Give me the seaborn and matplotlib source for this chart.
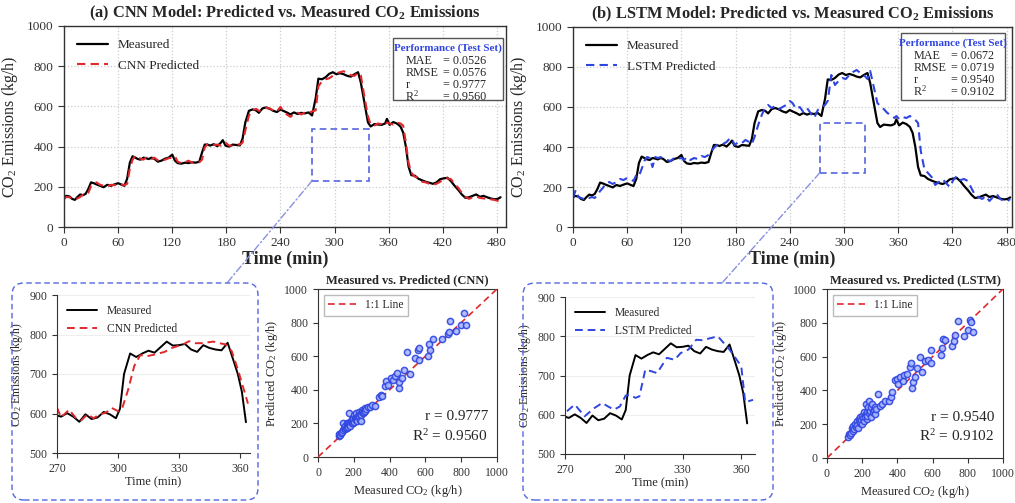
import matplotlib
matplotlib.use("Agg")
import matplotlib.pyplot as plt
import seaborn as sns
import numpy as np
from matplotlib.patches import FancyBboxPatch, Rectangle, ConnectionPatch

# ---------------- data ----------------
time_min = [0,3,6,9,12,15,18,21,24,27,
            30,33,36,40,44,48,52,56,60,64,
            67,70,73,76,79,82,85,88,91,94,
            97,100,104,108,112,116,120,123,126,130,
            134,138,142,146,150,153,156,159,162,166,
            170,174,176,179,183,187,191,195,198,201,
            205,209,213,216,220,224,228,232,236,240,
            243,247,251,255,259,263,267,271,275,279,
            282,286,290,294,298,302,306,310,314,318,
            322,326,329,333,337,340,344,348,352,356,
            358,361,365,369,373,376,379,382,385,389,
            393,397,401,405,409,413,417,421,425,429,
            433,437,441,445,449,453,457,461,465,469,
            473,477,481,484]
measured = [150,155,152,140,135,150,162,158,165,190,
            222,218,212,205,198,210,205,212,218,210,
            205,240,320,352,345,338,335,345,342,338,
            345,340,325,330,340,345,360,330,318,315,
            320,318,322,320,325,370,410,410,405,412,
            402,420,432,405,400,410,408,406,440,520,
            578,585,580,568,590,595,588,578,572,585,
            578,570,560,570,562,568,565,570,555,640,
            738,735,745,762,770,760,765,760,752,748,
            760,770,720,620,520,500,512,510,508,515,
            538,508,522,515,500,470,400,300,258,255,
            240,232,225,220,215,222,238,242,245,228,
            205,185,162,145,148,155,162,150,155,148,
            142,138,140,148]
cnn_pred = [140,150,148,145,138,142,150,160,158,170,
            205,215,222,210,205,202,210,208,215,212,
            208,215,290,335,355,345,340,335,345,340,
            338,345,332,328,335,342,345,352,325,318,
            322,330,320,322,322,335,395,412,415,408,
            410,405,415,420,405,405,412,410,420,480,
            555,580,588,578,580,592,590,580,575,598,
            575,560,548,562,568,560,570,568,575,580,
            700,725,735,740,752,765,770,775,768,755,
            752,768,755,650,550,510,505,515,512,505,
            520,515,510,520,515,505,420,320,270,250,
            245,225,222,215,210,215,225,240,242,238,
            215,195,170,150,140,148,152,145,142,140,
            138,135,130,128]
lstm_pred = [145,185,150,145,140,148,145,150,145,160,
             180,195,215,225,215,225,240,235,245,238,
             230,260,255,290,330,350,345,300,350,345,
             350,340,335,330,345,340,345,335,350,335,
             345,340,355,350,360,380,395,410,410,415,
             425,445,440,410,425,420,435,425,415,450,
             510,560,600,610,595,605,590,600,610,630,
             620,590,600,575,595,570,545,585,600,610,
             630,760,710,730,745,740,760,775,785,770,
             760,740,780,700,620,605,590,570,560,545,
             555,540,550,545,555,545,535,520,380,290,
             270,250,210,225,240,220,200,235,255,235,
             240,230,195,160,150,140,155,130,150,165,
             140,130,130,140]

# zoomed detail (270-365 min)
inset_t = [270,272,275,278,281,284,287,290,293,296,
           299,301,303,306,309,312,315,318,321,324,
           327,330,333,336,339,342,345,348,351,354,
           357,359,361,363]
inset_measured = [595,592,601,592,579,598,586,590,604,598,
                  588,612,700,752,743,752,759,754,768,782,
                  772,773,776,762,756,773,766,762,760,779,
                  732,700,655,578]
cnn_inset_t = [270,272,276,279,282,285,288,291,294,297,300,302,305,308,311,314,317,
               320,323,326,329,332,335,338,341,344,347,350,353,356,359,362,364]
cnn_inset_pred = [615,590,610,590,583,598,588,598,602,614,606,612,660,720,748,745,748,
                  752,756,765,770,775,783,778,778,780,782,778,775,758,712,660,625]
lstm_inset_t = [271,275,280,285,289,292,295,298,301,303,306,308,311,314,317,322,326,
                329,333,337,340,345,348,351,354,357,360,362,366]
lstm_inset_pred = [609,626,596,617,630,621,613,621,649,651,643,647,715,711,706,745,740,
                   757,766,791,790,796,800,783,766,745,723,632,638]

# scatter (measured, predicted)
cnn_sc_meas = [115,120,125,130,135,140,140,145,150,150,155,160,160,165,170,170,175,175,180,180,
               185,190,190,195,195,200,200,205,210,210,215,215,220,220,225,230,230,235,235,240,
               240,245,245,250,255,260,265,270,280,290,300,320,
               340,350,360,375,380,390,410,420,430,440,450,455,470,480,495,515,540,560,
               565,565,615,620,628,645,695,728,732,735,770,800,815,825]
cnn_sc_pred = [125,135,130,145,150,160,200,170,165,185,175,200,170,190,180,205,195,260,200,185,
               215,225,205,200,235,210,250,230,220,240,225,260,235,215,245,240,270,220,255,250,
               215,280,265,260,270,290,275,285,300,295,310,305,
               360,370,365,420,450,430,470,460,480,500,410,445,470,520,625,495,590,635,
               650,575,600,670,635,705,700,735,745,810,750,785,860,785]
lstm_sc_meas = [120,125,130,135,140,145,150,155,160,165,170,170,175,180,185,190,190,195,200,200,
                205,210,210,215,220,220,225,230,230,235,240,240,245,250,250,255,260,265,270,275,
                280,290,300,310,330,350,365,370,
                385,395,405,415,430,440,455,470,480,485,490,500,510,530,540,555,575,590,
                590,650,655,660,670,710,720,745,730,780,800,815,820,830]
lstm_sc_pred = [125,140,135,150,175,160,190,170,200,185,220,195,180,230,205,215,245,225,200,250,
                235,270,220,245,320,260,230,275,250,300,335,265,280,240,300,320,270,285,300,260,
                290,380,310,320,335,340,360,390,
                460,470,440,480,455,490,500,540,560,415,450,480,530,600,510,575,580,640,
                565,610,650,705,700,660,690,810,725,720,760,815,805,745]

# ---------------- style ----------------
sns.set_style("ticks")
serif = ["Liberation Serif", "DejaVu Serif"]
plt.rcParams["font.family"] = serif
plt.rcParams["mathtext.fontset"] = "custom"
plt.rcParams["mathtext.rm"] = "Liberation Serif"
plt.rcParams["mathtext.it"] = "Liberation Serif:italic"
plt.rcParams["mathtext.bf"] = "Liberation Serif:bold"
plt.rcParams["axes.edgecolor"] = "#333333"
plt.rcParams["xtick.color"] = "#333333"
plt.rcParams["ytick.color"] = "#333333"

RED = "#e0282d"
BLUE = "#2f45e0"
BOXBLUE = "#5566dd"

W, H = 1015, 503
fig = plt.figure(figsize=(W / 100, H / 100), dpi=100)
fig.patch.set_facecolor("white")

def fax(x0, y0, x1, y1):
    return fig.add_axes([x0 / W, 1 - y1 / H, (x1 - x0) / W, (y1 - y0) / H])

ax_a = fax(64, 26, 506, 227)
ax_b = fax(573, 27, 1012, 227)
ax_ia = fax(57, 295, 250, 453)
ax_sa = fax(318, 289, 497, 457)
ax_ib = fax(565, 297, 755, 454)
ax_sb = fax(827, 289, 1003, 458)

# ------------- top panels -------------
def top_panel(ax, pred, pcolor, plabel, title, metrics, box, rect, xmax):
    sns.lineplot(x=time_min, y=measured, ax=ax, color="black", lw=1.6,
                 label="Measured", estimator=None)
    sns.lineplot(x=time_min, y=pred, ax=ax, color=pcolor, lw=1.5,
                 label=plabel, estimator=None, linestyle=(0, (4, 2.5)))
    ax.set_xlim(0, xmax)
    ax.set_ylim(0, 1000)
    ax.set_xticks(range(0, 481, 60))
    ax.set_yticks(range(0, 1001, 200))
    ax.grid(True, color="#cccccc", linestyle=":", lw=0.9)
    ax.tick_params(labelsize=9.5, length=4, direction="out")
    for s in ax.spines.values():
        s.set_visible(True)
        s.set_linewidth(1.0)
    ax.set_ylabel("CO$_2$ Emissions (kg/h)", fontsize=11.5, labelpad=5)
    ax.set_xlabel("Time (min)", fontsize=13, fontweight="bold", labelpad=1)
    ax.set_title(title, fontsize=11.8, fontweight="bold", pad=6)
    ax.legend(loc="upper left", frameon=False, fontsize=9.5,
              handlelength=2.3, borderaxespad=0.6, labelspacing=0.6)
    # performance box
    bx0, by0, bx1, by1 = box
    ax.add_patch(Rectangle((bx0, by0), bx1 - bx0, by1 - by0, transform=ax.transAxes,
                           facecolor="white", edgecolor="#555555", lw=1.0, zorder=5))
    ax.text((bx0 + bx1) / 2, by1 - 0.048, "Performance (Test Set)", transform=ax.transAxes,
            ha="center", va="center", color=BLUE, fontsize=7.9, fontweight="bold", zorder=6)
    names = ["MAE", "RMSE", "r", "R$^2$"]
    for i, (n, v) in enumerate(zip(names, metrics)):
        yy = by1 - 0.115 - i * 0.059
        ax.text(bx0 + 0.028, yy, n, transform=ax.transAxes, ha="left", va="center",
                fontsize=8.7, zorder=6)
        ax.text(bx0 + 0.113, yy, "= " + v, transform=ax.transAxes, ha="left",
                va="center", fontsize=8.7, zorder=6)
    # zoom rectangle
    rx0, rx1, ry0, ry1 = rect
    ax.add_patch(Rectangle((rx0, ry0), rx1 - rx0, ry1 - ry0, fill=False,
                           edgecolor=BOXBLUE, lw=1.2, linestyle=(0, (4, 2.5)), zorder=4))

top_panel(ax_a, cnn_pred, RED, "CNN Predicted",
          "(a) CNN Model: Predicted vs. Measured CO$_\\mathbf{2}$ Emissions",
          ["0.0526", "0.0576", "0.9777", "0.9560"],
          (0.744, 0.632, 0.993, 0.940), (275, 338, 230, 490), 490)
top_panel(ax_b, lstm_pred, BLUE, "LSTM Predicted",
          "(b) LSTM Model: Predicted vs. Measured CO$_\\mathbf{2}$ Emissions",
          ["0.0672", "0.0719", "0.9540", "0.9102"],
          (0.747, 0.635, 0.984, 0.968), (273, 323, 270, 518), 486)

# ------------- insets -------------
def inset(ax, pt, pv, pcolor, plabel, xmax, xlabels):
    sns.lineplot(x=inset_t, y=inset_measured, ax=ax, color="black", lw=1.4,
                 label="Measured", estimator=None)
    sns.lineplot(x=pt, y=pv, ax=ax, color=pcolor, lw=1.4, label=plabel,
                 estimator=None, linestyle=(0, (4, 2.5)))
    ax.set_xlim(270, xmax)
    ax.set_ylim(500, 900)
    ax.set_xticks([270, 300, 330, 360])
    ax.set_xticklabels(xlabels)
    ax.set_yticks(range(500, 901, 100))
    ax.grid(True, axis="y", color="#eeeeee", lw=0.8)
    ax.spines["top"].set_visible(False)
    ax.spines["right"].set_visible(False)
    ax.tick_params(labelsize=8.5, length=3.5)
    ax.set_ylabel("CO$_2$ Emissions (kg/h)", fontsize=8.5, labelpad=3)
    ax.set_xlabel("Time (min)", fontsize=9, labelpad=1)
    ax.legend(loc="upper left", frameon=False, fontsize=8.3, handlelength=2.6,
              borderaxespad=0.5, labelspacing=0.5)

inset(ax_ia, cnn_inset_t, cnn_inset_pred, RED, "CNN Predicted", 365,
      ["270", "300", "330", "360"])
inset(ax_ib, lstm_inset_t, lstm_inset_pred, BLUE, "LSTM Predicted", 367,
      ["270", "200", "330", "360"])

# ------------- scatter -------------
def scatter(ax, xm, yp, title, r, r2):
    ax.plot([0, 1000], [0, 1000], color=RED, lw=1.2, linestyle=(0, (4, 2.5)),
            label="1:1 Line", zorder=3)
    sns.scatterplot(x=xm, y=yp, ax=ax, s=20, marker="o", facecolor="#aab8ff",
                    edgecolor=BLUE, linewidth=1.1, alpha=0.9, zorder=4, legend=False)
    ax.set_xlim(0, 1000)
    ax.set_ylim(0, 1000)
    ax.set_xticks(range(0, 1001, 200))
    ax.set_yticks(range(0, 1001, 200))
    for s in ax.spines.values():
        s.set_visible(True)
    ax.tick_params(labelsize=8.5, length=3.5)
    ax.set_title(title, fontsize=9, fontweight="bold", pad=4)
    ax.set_xlabel("Measured CO$_2$ (kg/h)", fontsize=9, labelpad=3)
    ax.set_ylabel("Predicted CO$_2$ (kg/h)", fontsize=9, labelpad=3)
    ax.legend(loc="upper left", fontsize=8.3, handlelength=2.4, fancybox=False,
              edgecolor="#aaaaaa", borderaxespad=0.5)
    ax.text(0.95, 0.08, f"r = {r}\nR$^2$ = {r2}", transform=ax.transAxes,
            ha="right", va="bottom", fontsize=11, linespacing=1.35)

scatter(ax_sa, cnn_sc_meas, cnn_sc_pred, "Measured vs. Predicted (CNN)", "0.9777", "0.9560")
scatter(ax_sb, lstm_sc_meas, lstm_sc_pred, "Measured vs. Predicted (LSTM)", "0.9540", "0.9102")

# ------------- rounded dashed frames & connectors -------------
r = 0.12
for (x0, x1) in [(12, 258), (523, 773)]:
    y0, y1 = 3, 220
    fig.patches.append(FancyBboxPatch((x0 / 100 + r, y0 / 100 + r),
                                      (x1 - x0) / 100 - 2 * r, (y1 - y0) / 100 - 2 * r,
                                      boxstyle=f"round,pad={r}", transform=fig.dpi_scale_trans,
                                      fill=False, edgecolor=BOXBLUE, lw=1.0,
                                      linestyle=(0, (4, 2.5)), figure=fig))

for ax, pt, endx in [(ax_a, (275, 230), 227), (ax_b, (273, 270), 722)]:
    con = ConnectionPatch(xyA=pt, coordsA="data", axesA=ax,
                          xyB=(endx / W, 1 - 283 / H), coordsB="figure fraction",
                          color="#8890e0", lw=1.0, linestyle=(0, (5, 2, 1, 2)))
    fig.add_artist(con)

fig.savefig("out.png", dpi=100, facecolor="white")
